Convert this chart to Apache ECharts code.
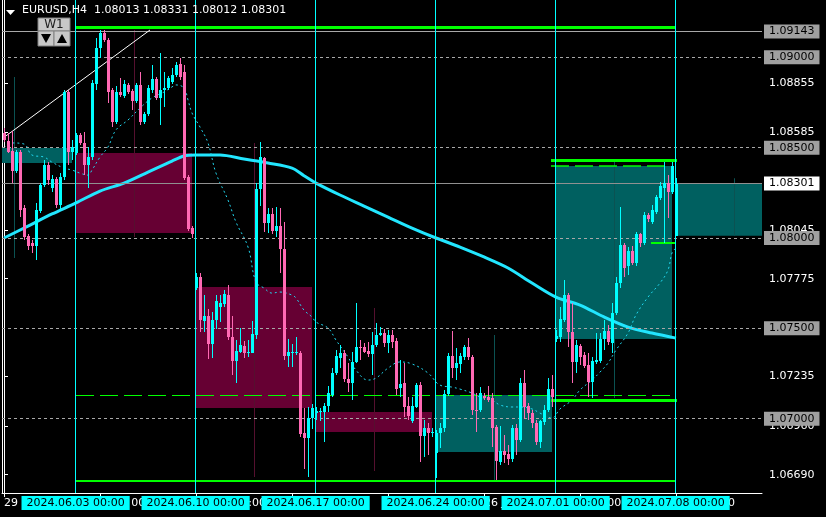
<!DOCTYPE html>
<html><head><meta charset="utf-8">
<script src="https://cdn.jsdelivr.net/npm/echarts@6/dist/echarts.min.js"></script>
<style>html,body{margin:0;padding:0;background:#000;}#c{width:826px;height:517px;}</style>
</head><body><div id="c"></div>
<script>
// ---------- DATA ----------
const symbolName = 'EURUSD,H4';
// H4 bars, index 0 = 2024.05.29 00:00, 30 bars per week
const open = [
1.08581,1.08536,1.08481,1.08370,1.08476,1.08166,1.08011,1.07972,1.07956,1.08149,1.08293,1.08404,1.08277,1.08326,1.08183,1.08337,1.08808,1.08476,
1.08470,1.08570,1.08526,1.08404,1.08448,1.08852,1.09051,1.09134,1.09096,1.08819,1.08642,1.08808,1.08786,1.08847,1.08813,1.08758,1.08847,1.08642,1.08686,1.08819,1.08880,1.08775,1.08819,1.08830,1.08863,1.08902,1.08963,1.08919,1.08337,1.08055,
1.07723,1.07784,1.07540,1.07568,1.07413,1.07546,1.07618,1.07635,1.07684,1.07452,1.07319,1.07369,1.07402,1.07363,1.07363,1.07463,1.08271,1.08443,1.08083,1.08133,1.08039,1.08066,1.07939,1.07347,1.07363,1.07363,1.07363,1.06921,1.06893,1.07004,
1.07031,1.07037,1.07037,1.07070,1.07131,1.07253,1.07336,1.07363,1.07220,1.07197,1.07314,1.07397,1.07397,1.07374,1.07358,1.07408,1.07463,1.07474,1.07419,1.07463,1.07430,1.07170,1.07197,1.07070,1.06987,1.07065,1.07186,1.06904,1.06948,1.06921,
1.06810,1.06921,1.06948,1.07136,1.07347,1.07280,1.07303,1.07341,1.07397,1.07341,1.07048,1.07048,1.07125,1.07120,1.07114,1.06954,1.06760,1.06821,1.06805,1.06777,1.06948,1.06882,1.07197,1.07070,1.07031,1.06976,1.06871,1.06982,1.07048,1.07164,
1.07441,1.07452,1.07546,1.07684,1.07480,1.07314,1.07402,1.07352,1.07297,1.07203,1.07314,1.07319,1.07441,1.07485,1.07419,1.07585,1.07751,1.07961,1.07845,1.07928,1.07861,1.08022,1.07972,1.08127,1.08088,1.08144,1.08221,1.08277,1.08304,1.08254,
1.08013];
const high = [
1.08609,1.08581,1.08592,1.08487,1.08487,1.08183,1.08022,1.07989,1.08194,1.08304,1.08432,1.08420,1.08348,1.08337,1.08359,1.08819,1.08819,1.08542,
1.08581,1.08581,1.08587,1.08504,1.08874,1.09107,1.09151,1.09151,1.09107,1.08830,1.08841,1.08885,1.08874,1.08858,1.08825,1.08858,1.08919,1.08697,1.08847,1.08957,1.08891,1.09024,1.08919,1.08896,1.08941,1.08974,1.08996,1.08957,1.08348,1.08066,
1.07806,1.07806,1.07684,1.07607,1.07590,1.07684,1.07684,1.07712,1.07740,1.07568,1.07435,1.07502,1.07430,1.07435,1.07540,1.08304,1.08531,1.08448,1.08166,1.08166,1.08172,1.08166,1.08088,1.07441,1.07413,1.07452,1.07374,1.07059,1.07065,1.07081,
1.07065,1.07059,1.07087,1.07181,1.07280,1.07380,1.07408,1.07380,1.07308,1.07369,1.07640,1.07435,1.07419,1.07424,1.07480,1.07529,1.07507,1.07496,1.07491,1.07491,1.07446,1.07325,1.07308,1.07120,1.07120,1.07197,1.07203,1.06993,1.06976,1.06948,
1.06937,1.06976,1.07159,1.07363,1.07485,1.07391,1.07363,1.07408,1.07446,1.07352,1.07142,1.07175,1.07142,1.07181,1.07142,1.06965,1.06959,1.06910,1.06854,1.06965,1.06970,1.07225,1.07269,1.07087,1.07048,1.06993,1.06993,1.07076,1.07225,1.07242,
1.07491,1.07618,1.07767,1.07695,1.07640,1.07435,1.07413,1.07369,1.07363,1.07341,1.07474,1.07474,1.07546,1.07518,1.07640,1.07784,1.08172,1.07972,1.07950,1.07956,1.08033,1.08028,1.08144,1.08138,1.08183,1.08238,1.08310,1.08420,1.08348,1.08420,
1.08331];
const low = [
1.08531,1.08470,1.08304,1.08359,1.08116,1.07989,1.07933,1.07917,1.07878,1.08138,1.08282,1.08293,1.08255,1.08166,1.08155,1.08321,1.08404,1.08432,
1.08459,1.08515,1.08348,1.08277,1.08432,1.08819,1.08996,1.09085,1.08747,1.08614,1.08631,1.08780,1.08775,1.08797,1.08708,1.08747,1.08625,1.08631,1.08675,1.08802,1.08764,1.08625,1.08725,1.08819,1.08852,1.08891,1.08874,1.08321,1.08039,1.08000,
1.07712,1.07480,1.07480,1.07330,1.07336,1.07497,1.07535,1.07618,1.07435,1.07242,1.07197,1.07363,1.07336,1.07341,1.07363,1.07441,1.08177,1.08033,1.08028,1.08022,1.08005,1.07806,1.07325,1.07286,1.07286,1.07352,1.06899,1.06721,1.06677,1.06943,
1.06993,1.06987,1.06870,1.07037,1.07120,1.07242,1.07280,1.07203,1.07148,1.07103,1.07308,1.07325,1.07363,1.07341,1.07242,1.07397,1.07458,1.07397,1.07363,1.07391,1.07131,1.07120,1.07010,1.06993,1.06976,1.07059,1.06760,1.06788,1.06799,1.06899,
1.06672,1.06838,1.06926,1.07125,1.07225,1.07214,1.07253,1.07325,1.07325,1.07020,1.06926,1.07037,1.07103,1.07092,1.06843,1.06661,1.06744,1.06755,1.06744,1.06760,1.06799,1.06871,1.06998,1.06993,1.06948,1.06854,1.06838,1.06965,1.07037,1.07065,
1.07424,1.07424,1.07535,1.07397,1.07197,1.07253,1.07297,1.07280,1.07120,1.07114,1.07303,1.07308,1.07380,1.07408,1.07363,1.07574,1.07723,1.07784,1.07795,1.07850,1.07845,1.07950,1.07961,1.08088,1.08077,1.08133,1.08210,1.07972,1.08110,1.08243,
1.08012];
const close = [
1.08542,1.08476,1.08370,1.08476,1.08155,1.08005,1.07956,1.07956,1.08155,1.08293,1.08404,1.08321,1.08326,1.08183,1.08337,1.08808,1.08476,1.08504,
1.08570,1.08526,1.08404,1.08448,1.08858,1.09051,1.09134,1.09096,1.08808,1.08642,1.08808,1.08791,1.08852,1.08808,1.08758,1.08847,1.08642,1.08686,1.08830,1.08880,1.08775,1.08819,1.08830,1.08885,1.08902,1.08957,1.08891,1.08332,1.08050,1.08022,
1.07784,1.07546,1.07568,1.07413,1.07546,1.07651,1.07640,1.07690,1.07452,1.07319,1.07374,1.07408,1.07363,1.07369,1.07469,1.08271,1.08448,1.08083,1.08133,1.08039,1.08066,1.07939,1.07347,1.07369,1.07369,1.07369,1.06915,1.06893,1.07004,1.07059,
1.07042,1.07040,1.07070,1.07142,1.07253,1.07347,1.07363,1.07220,1.07197,1.07314,1.07397,1.07395,1.07369,1.07358,1.07408,1.07463,1.07474,1.07419,1.07463,1.07424,1.07164,1.07192,1.07065,1.07015,1.07070,1.07186,1.06904,1.06948,1.06921,1.06925,
1.06921,1.06948,1.07136,1.07347,1.07280,1.07308,1.07347,1.07397,1.07341,1.07048,1.07042,1.07142,1.07114,1.07103,1.06948,1.06766,1.06821,1.06799,1.06777,1.06948,1.06882,1.07197,1.07065,1.07031,1.06976,1.06871,1.06987,1.07048,1.07164,1.07120,
1.07458,1.07551,1.07684,1.07480,1.07314,1.07408,1.07341,1.07292,1.07203,1.07319,1.07325,1.07441,1.07485,1.07424,1.07585,1.07751,1.07961,1.07834,1.07928,1.07861,1.08022,1.07972,1.08127,1.08105,1.08155,1.08227,1.08288,1.08304,1.08254,1.08398,
1.08301];

// weekly (W1) candles drawn as boxes
const weekStartBar = [-12, 18, 48, 78, 108, 138, 168];
const weekOpen  = [1.08415, 1.08470, 1.07729, 1.07037, 1.06816, 1.07441, 1.08013];
const weekClose = [1.08498, 1.08028, 1.07059, 1.06926, 1.07131, 1.08398, 1.08301];
const weekHigh  = [1.08891, 1.09151, 1.08526, 1.07613, 1.07463, 1.08420, 1.08331];
const weekLow   = [1.07889, 1.08005, 1.06677, 1.06711, 1.06661, 1.07115, 1.08012];

// slow moving average (thick) and fast moving average (dotted)
const maSlowBar = [0,6,12,18,24,30,36,42,45,48,54,60,66,72,75,78,84,90,96,102,108,114,120,126,132,138,144,150,156,162,168];
const maSlow = [1.08000,1.08066,1.08133,1.08194,1.08260,1.08304,1.08365,1.08426,1.08454,1.08459,1.08459,1.08437,1.08415,1.08387,1.08345,1.08304,1.08238,1.08177,1.08116,1.08055,1.08000,1.07950,1.07895,1.07834,1.07751,1.07673,1.07629,1.07563,1.07507,1.07474,1.07446];
const maFastBar = [0,2,5,7,10,12,15,17,19,21,22,24,26,28,31,34,37,40,42,43,45,46,47,49,51,53,56,58,61,63,65,67,69,72,73,75,77,78,81,83,86,88,91,93,96,99,102,106,109,112,114,117,119,122,124,127,129,132,134,137,139,142,144,147,149,151,153,156,158,161,164,166,167,168];
const maFast = [1.08498,1.08526,1.08520,1.08459,1.08448,1.08420,1.08387,1.08376,1.08359,1.08348,1.08376,1.08448,1.08504,1.08598,1.08653,1.08719,1.08775,1.08808,1.08836,1.08847,1.08830,1.08764,1.08692,1.08614,1.08526,1.08359,1.08210,1.08088,1.07950,1.07756,1.07723,1.07695,1.07701,1.07684,1.07668,1.07601,1.07563,1.07535,1.07502,1.07435,1.07341,1.07269,1.07214,1.07225,1.07280,1.07314,1.07303,1.07253,1.07186,1.07175,1.07164,1.07142,1.07120,1.07103,1.07076,1.07065,1.07065,1.07054,1.07031,1.07004,1.07054,1.07103,1.07159,1.07214,1.07258,1.07308,1.07380,1.07474,1.07574,1.07673,1.07751,1.07823,1.07917,1.07945];

// horizontal levels
const roundLevels = [1.09000, 1.08500, 1.08000, 1.07500, 1.07000];
const rangeHighLevel = 1.09143;
const priceTicks = [1.08855, 1.08585, 1.08045, 1.07775, 1.07235, 1.06960, 1.06690];
const greenLevel    = [1.09166, 1.06658, 1.08432, 1.08398, 1.07972, 1.07104, 1.07131];
const greenStartBar = [18, 18, 136.75, 136.75, 161.75, 136.75, 18];
const greenEndBar   = [168, 168, 168.25, 166.75, 168, 168.25, 166.75];
const trendStart = [-0.25, 1.08553];
const trendEnd   = [36.5, 1.09151];

// week separators and time axis
const separatorBar = [18, 48, 78, 108, 138, 168];
const separatorLabel = ['2024.06.03 00:00','2024.06.10 00:00','2024.06.17 00:00','2024.06.24 00:00','2024.07.01 00:00','2024.07.08 00:00'];
const timeTickBar = [0, 24, 48, 72, 96, 120, 144, 168];
const timeTickLabel = ['29 May 2024','4 Jun 00:00','10 Jun 00:00','14 Jun 00:00','20 Jun 00:00','26 Jun 00:00','2 Jul 00:00','8 Jul 00:00'];

// ---------- CHART ----------
const FONT = 'DejaVu Sans';
const BULL = '#00ffff', BEAR = '#ff69b4';
const n = open.length;
const last = [open[n-1], high[n-1], low[n-1], close[n-1]];
const bid = close[n-1];

const candleData = open.map((o, i) => [i, o, high[i], low[i], close[i]]);
const weekData = weekStartBar.map((s, i) => [s, weekOpen[i], weekClose[i], weekHigh[i], weekLow[i]]);

const greenStyles = [
  {width:3, type:'solid'}, {width:2, type:'solid'}, {width:3, type:'solid'}, {width:1.5, type:[18,6]},
  {width:2, type:'solid'}, {width:3, type:'solid'}, {width:1, type:[18,6]}
];

function renderCandle(params, api) {
  const i = api.value(0), o = api.value(1), h = api.value(2), l = api.value(3), c = api.value(4);
  const pO = api.coord([i, o]), pC = api.coord([i, c]), pH = api.coord([i, h]), pL = api.coord([i, l]);
  const x = Math.round(pO[0]);
  const color = c >= o ? BULL : BEAR;
  let top = Math.round(Math.min(pO[1], pC[1])), bot = Math.round(Math.max(pO[1], pC[1]));
  if (bot - top < 1) bot = top + 1;
  const yh = Math.round(pH[1]), yl = Math.round(pL[1]);
  return {type:'group', children:[
    {type:'rect', shape:{x:x, y:yh, width:1, height:Math.max(1, yl - yh)}, style:{fill:color}},
    {type:'rect', shape:{x:x-1, y:top, width:3, height:bot-top}, style:{fill:color}}
  ]};
}
function renderWeek(params, api) {
  const s = api.value(0), o = api.value(1), c = api.value(2), h = api.value(3), l = api.value(4);
  const x0 = api.coord([s, o])[0], x1 = api.coord([s + 29, o])[0];
  const yo = api.coord([s, o])[1], yc = api.coord([s, c])[1];
  const yh = api.coord([s, h])[1], yl = api.coord([s, l])[1];
  const xm = Math.round(api.coord([s + 14.5, o])[0]);
  const bull = c >= o;
  return {type:'group', children:[
    {type:'rect', shape:{x:x0, y:Math.min(yo, yc), width:x1 - x0, height:Math.max(1, Math.abs(yc - yo))}, style:{fill: bull ? '#006060' : '#660033'}},
    {type:'rect', shape:{x:xm, y:yh, width:1, height:yl - yh}, style:{fill: bull ? '#0b5252' : '#55102f'}}
  ]};
}

const priceLabel = (bg) => ({show:true, position:'end', distance:2, backgroundColor:bg, color:'#000',
  padding:[1,5,1,5], fontFamily:FONT, fontSize:11, lineHeight:12, formatter:(p) => Number(p.value).toFixed(5)});

const levelLines = roundLevels.map(v => ({yAxis:v, lineStyle:{color:'#a8a8a8', type:[3,3], width:1}, label:priceLabel('#a0a0a0')}));
levelLines.push({yAxis:rangeHighLevel, lineStyle:{color:'#a8a8a8', type:'solid', width:1}, label:priceLabel('#a0a0a0')});
levelLines.push({yAxis:bid, lineStyle:{color:'#909090', type:'solid', width:1}, label:priceLabel('#ffffff')});

const greenLines = greenLevel.map((v, i) => [
  {coord:[greenStartBar[i], v], lineStyle:{color:'#00ff00', width:greenStyles[i].width, type:greenStyles[i].type}},
  {coord:[greenEndBar[i], v]}
]);

const sepLines = separatorBar.map((b, i) => ({xAxis:b - 0.1, label:{show:true, position:'start', distance:3,
  formatter:separatorLabel[i], backgroundColor:'#00ffff', color:'#000', padding:[1,5,1,5], fontFamily:FONT, fontSize:11, lineHeight:12}}));

const chart = echarts.init(document.getElementById('c'), null, {renderer:'canvas'});
chart.setOption({
  backgroundColor:'#000',
  animation:false,
  textStyle:{fontFamily:FONT},
  grid:{left:2, right:64, top:0, bottom:24},
  xAxis:{type:'value', min:-0.5, max:189.5, splitLine:{show:false},
    axisLine:{lineStyle:{color:'#ffffff', width:1}},
    axisTick:{show:true, customValues:timeTickBar, length:4, lineStyle:{color:'#ffffff'}},
    axisLabel:{show:true, customValues:timeTickBar, color:'#ffffff', fontSize:11, fontFamily:FONT, align:'left', margin:5,
      formatter:(v) => { const k = timeTickBar.indexOf(Math.round(v)); return k >= 0 ? timeTickLabel[k] : ''; }}},
  yAxis:[
    {type:'value', position:'right', min:1.06589, max:1.09317, scale:true, splitLine:{show:false},
      axisLine:{show:true, lineStyle:{color:'#ffffff', width:1}},
      axisTick:{show:true, customValues:priceTicks, length:4, lineStyle:{color:'#ffffff'}},
      axisLabel:{show:true, customValues:priceTicks, color:'#ffffff', fontSize:11, fontFamily:FONT, margin:7,
        formatter:(v) => v.toFixed(5)}},
    {type:'value', position:'left', min:1.06589, max:1.09317, scale:true, splitLine:{show:false},
      axisLine:{show:true, onZero:false, lineStyle:{color:'#ffffff', width:1}}, axisTick:{show:false}, axisLabel:{show:false}}
  ],
  series:[
    {type:'custom', name:'W1', renderItem:renderWeek, data:weekData, clip:true, z:1, silent:true},
    {type:'scatter', data:[[-100, 1.08]], symbolSize:0, z:2, silent:true,
      markLine:{silent:true, symbol:'none', animation:false, precision:5, data:levelLines}},
    {type:'scatter', data:[[-100, 1.08]], symbolSize:0, z:3, silent:true,
      markLine:{silent:true, symbol:'none', animation:false, precision:5, label:{show:false}, data:greenLines.concat([[
        {coord:trendStart, lineStyle:{color:'#ffffff', width:1, type:'solid'}}, {coord:trendEnd}]])}},
    {type:'line', name:'MA slow', data:maSlowBar.map((b, i) => [b, maSlow[i]]), showSymbol:false, smooth:0.3, z:4,
      lineStyle:{color:'#22e6ff', width:3}},
    {type:'line', name:'MA fast', data:maFastBar.map((b, i) => [b, maFast[i]]), showSymbol:false, smooth:0.4, z:4,
      lineStyle:{color:'#22d8f0', width:1, type:[2,3]}},
    {type:'custom', name:'EURUSD', renderItem:renderCandle, data:candleData, clip:true, z:5, silent:true},
    {type:'scatter', data:[[-100, 1.08]], symbolSize:0, z:6, silent:true,
      markLine:{silent:true, symbol:'none', animation:false, precision:5, lineStyle:{color:'#00ffff', width:1, type:'solid'}, data:sepLines}}
  ],
  graphic:[
    {type:'polygon', shape:{points:[[6,10],[15,10],[10.5,15]]}, style:{fill:'#ffffff'}, z:100},
    {type:'text', left:22, top:5, style:{text:symbolName + '  ' + last.map(v => v.toFixed(5)).join(' '), fill:'#ffffff', font:'11px "DejaVu Sans"'}, z:100},
    {type:'rect', shape:{x:38, y:18, width:32, height:13}, style:{fill:'#c8c8c8', stroke:'#808080', lineWidth:1}, z:100},
    {type:'text', x:54, y:24.5, style:{text:'W1', fill:'#202020', font:'12px "DejaVu Sans"', align:'center', verticalAlign:'middle'}, z:101},
    {type:'rect', shape:{x:38, y:31, width:16, height:15}, style:{fill:'#c8c8c8', stroke:'#808080', lineWidth:1}, z:100},
    {type:'rect', shape:{x:54, y:31, width:16, height:15}, style:{fill:'#c8c8c8', stroke:'#808080', lineWidth:1}, z:100},
    {type:'polygon', shape:{points:[[41,34],[51,34],[46,43]]}, style:{fill:'#000'}, z:101},
    {type:'polygon', shape:{points:[[57,43],[67,43],[62,34]]}, style:{fill:'#000'}, z:101}
  ]
});
</script></body></html>
